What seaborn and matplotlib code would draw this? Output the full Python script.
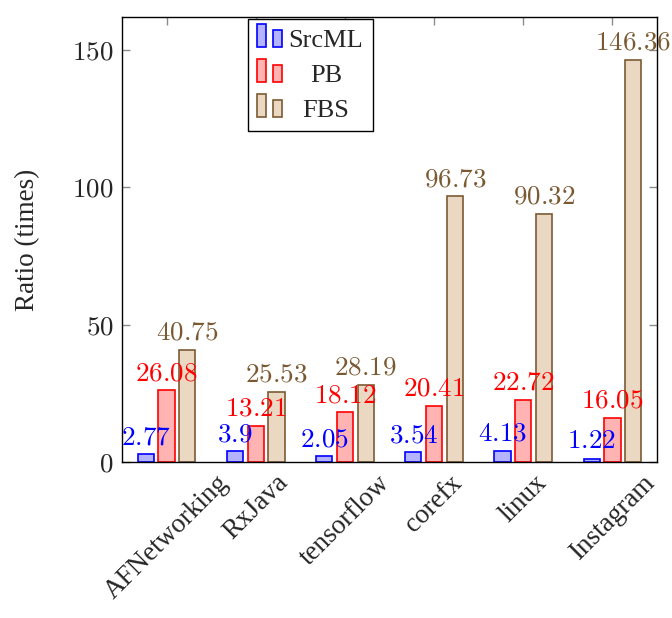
import numpy as np
import pandas as pd
import matplotlib
matplotlib.use("Agg")
import matplotlib.pyplot as plt
from matplotlib import font_manager as fm
import seaborn as sns
from matplotlib.patches import Rectangle
from matplotlib.legend_handler import HandlerBase

projects = ["AFNetworking", "RxJava", "tensorflow", "corefx", "linux", "Instagram"]
series = ["SrcML", "PB", "FBS"]
srcml = [2.77, 3.9, 2.05, 3.54, 4.13, 1.22]
pb = [26.08, 13.21, 18.12, 20.41, 22.72, 16.05]
fbs = [40.75, 25.53, 28.19, 96.73, 90.32, 146.36]
yticks = [0, 50, 100, 150]

fills = ["#b3b3ff", "#ffb3b3", "#ead8c3"]
edges = ["#0000ff", "#ff0000", "#7b5a33"]

df = pd.DataFrame({
    "project": projects * 3,
    "series": [s for s in series for _ in projects],
    "value": srcml + pb + fbs,
})

for f in fm.findSystemFonts():
    if "Liberation" in f and "Serif" in f:
        try:
            fm.fontManager.addfont(f)
        except Exception:
            pass

sns.set_theme(style="white")
plt.rcParams["font.family"] = ["Liberation Serif", "DejaVu Serif"]
plt.rcParams["mathtext.fontset"] = "cm"

FS = 19.5

fig = plt.figure(figsize=(6.72, 6.18), dpi=100)
ax = fig.add_axes([0.1815, 0.2524, 0.7962, 0.7201])

sns.barplot(data=df, x="project", y="value", hue="series", hue_order=series,
            order=projects, palette=fills, width=0.7, gap=0.22,
            linewidth=1.2, legend=False, ax=ax, saturation=1)

for cont, ec, vals in zip(ax.containers, edges, [srcml, pb, fbs]):
    for p in cont.patches:
        p.set_edgecolor(ec)
        p.set_linewidth(1.2)
    labels = [f"${v:g}$" for v in vals]
    ax.bar_label(cont, labels=labels, padding=3, color=ec, fontsize=FS,
                 clip_on=False)

ax.set_xlim(-0.5, 5.5)
ax.set_ylim(0, 162)
ax.set_yticks(yticks)
ax.set_yticklabels([f"${t}$" for t in yticks], fontsize=FS)
ax.set_xticks(range(len(projects)))
ax.set_xticklabels(projects, rotation=45, ha="center", va="top", fontsize=FS)
ax.set_xlabel("")
ax.set_ylabel("Ratio (times)", fontsize=FS, labelpad=23)
ax.tick_params(direction="in", length=6, width=1, color="0.55",
               top=True, right=True, bottom=True, left=True, pad=6)
for s in ax.spines.values():
    s.set_visible(True)
    s.set_color("black")
    s.set_linewidth(1)


class TwoBarHandler(HandlerBase):
    def __init__(self, fc, ec):
        super().__init__()
        self.fc = fc
        self.ec = ec

    def create_artists(self, legend, orig_handle, xdescent, ydescent,
                       width, height, fontsize, trans):
        y0 = -ydescent
        r1 = Rectangle((-xdescent, y0), 6.2, height * 1.23,
                       facecolor=self.fc, edgecolor=self.ec, lw=1.2,
                       transform=trans)
        r2 = Rectangle((-xdescent + 11.5, y0), 6.2, height * 0.92,
                       facecolor=self.fc, edgecolor=self.ec, lw=1.2,
                       transform=trans)
        return [r1, r2]


handles = [Rectangle((0, 0), 1, 1, label=s) for s in series]
hmap = {h: TwoBarHandler(fc, ec) for h, fc, ec in zip(handles, fills, edges)}
LFS = 19
leg = ax.legend(handles=handles, labels=series, handler_map=hmap,
                loc="upper left", bbox_to_anchor=(0.2355, 0.995),
                borderaxespad=0, fontsize=LFS, frameon=True, fancybox=False,
                edgecolor="black", framealpha=1, handlelength=0.94,
                handletextpad=0.24, labelspacing=0.43, borderpad=0.36)
leg.get_frame().set_linewidth(1)

# center the legend labels like pgfplots
fig.canvas.draw()
renderer = fig.canvas.get_renderer()
texts = leg.get_texts()
widths = [t.get_window_extent(renderer).width for t in texts]
wref = max(widths)
for t, w in zip(texts, widths):
    t.set_position(((wref - w) / 2, 0))

fig.savefig("out.png", dpi=100)
